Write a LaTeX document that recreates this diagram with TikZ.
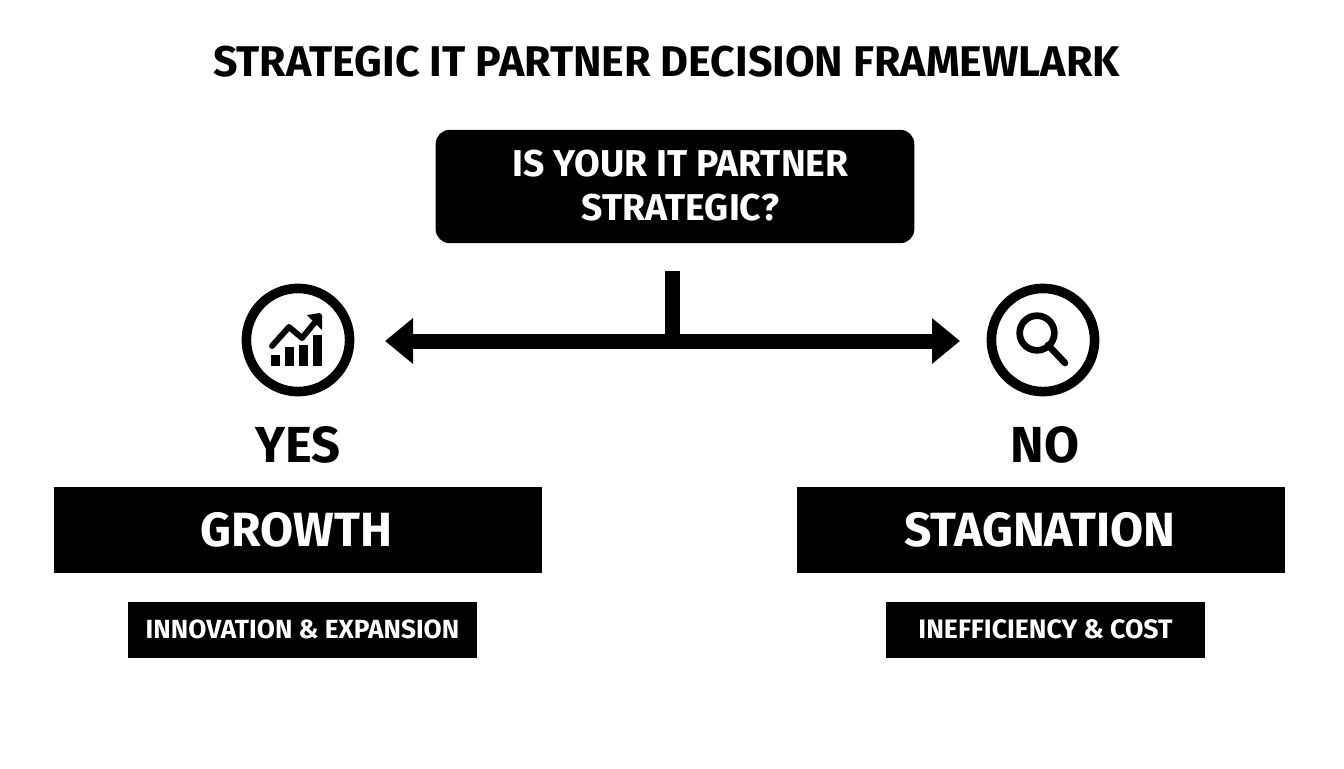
\documentclass[tikz,border=0pt]{standalone}
\usepackage{fontspec}
\setmainfont{Fira Sans}
\usetikzlibrary{arrows.meta}
\tikzset{
  x=0.75pt,y=-0.75pt,
  lbl/.style={inner sep=0pt,text=black},
  whitelbl/.style={inner sep=0pt,text=white,align=center},
  bar/.style={fill=black,draw=none,inner sep=0pt},
  ring/.style={circle,draw=black,line width=7.2pt,fill=none,minimum size=77.4pt,inner sep=0pt},
  conn/.style={draw=black,line width=11.25pt},
  ico/.style={draw=black,line width=4.4pt},
}
\begin{document}
\begin{tikzpicture}
\useasboundingbox (0,0) rectangle (1344,768);
\fill[white] (0,0) rectangle (1344,768);
% title
\node[lbl,font=\fontsize{32.2pt}{34pt}\bfseries] (title) at (666.5,62) {STRATEGIC IT PARTNER DECISION FRAMEWLARK};
% question
\node[bar,rounded corners=10.5pt,minimum width=359pt,minimum height=85pt] (q) at (675,186.5) {};
\node[whitelbl,font=\fontsize{28pt}{33pt}\bfseries] (qt) at (680.5,186) {IS YOUR IT PARTNER\\STRATEGIC?};
% connectors
\coordinate (stemtop) at (672.5,271);
\coordinate (junction) at (672.5,341);
\coordinate (leftend) at (385,341);
\coordinate (rightend) at (960,341);
\draw[conn] (stemtop) -- (junction);
\draw[conn,-{Triangle[length=21pt,width=33pt]}] (junction) -- (leftend);
\draw[conn,-{Triangle[length=21pt,width=33pt]}] (junction) -- (rightend);
% rings
\node[ring] (yesring) at (298,340) {};
\node[ring] (noring) at (1043,340) {};
% chart icon
\fill (271,355) rectangle (280,366);
\fill (285,347) rectangle (294,366);
\fill (299,345) rectangle (308,366);
\fill (313,335) rectangle (322,366);
\draw[ico,line cap=round,line join=round] (272,346) -- (289,327) -- (302,338) -- (316,321);
\fill (307,315) -- (320,313) -- (322,315) -- (322,330) -- cycle;
% magnifier icon
\draw[draw=black,line width=5pt] (1037,333) circle[radius=13pt];
\draw[draw=black,line width=5pt,line cap=round] (1048,345) -- (1065,363);
% yes / no
\node[lbl,font=\fontsize{38pt}{40pt}\bfseries] (yes) at (298,445) {YES};
\node[lbl,font=\fontsize{38pt}{40pt}\bfseries] (no) at (1045,445) {NO};
% result bars
\node[bar,minimum width=366pt,minimum height=65pt] (growth) at (297.5,530) {};
\node[whitelbl,font=\fontsize{36pt}{38pt}\bfseries] at (296.5,530) {GROWTH};
\node[bar,minimum width=366pt,minimum height=65pt] (stag) at (1041,530) {};
\node[whitelbl,font=\fontsize{36pt}{38pt}\bfseries] at (1040,530) {STAGNATION};
\node[bar,minimum width=262pt,minimum height=42pt] (inn) at (302.5,629.5) {};
\node[whitelbl,font=\fontsize{19.7pt}{22pt}\bfseries] at (inn.center) {INNOVATION \& EXPANSION};
\node[bar,minimum width=239pt,minimum height=42pt] (ineff) at (1045.5,629.5) {};
\node[whitelbl,font=\fontsize{20pt}{22pt}\bfseries] at (ineff.center) {INEFFICIENCY \& COST};
\end{tikzpicture}
\end{document}
